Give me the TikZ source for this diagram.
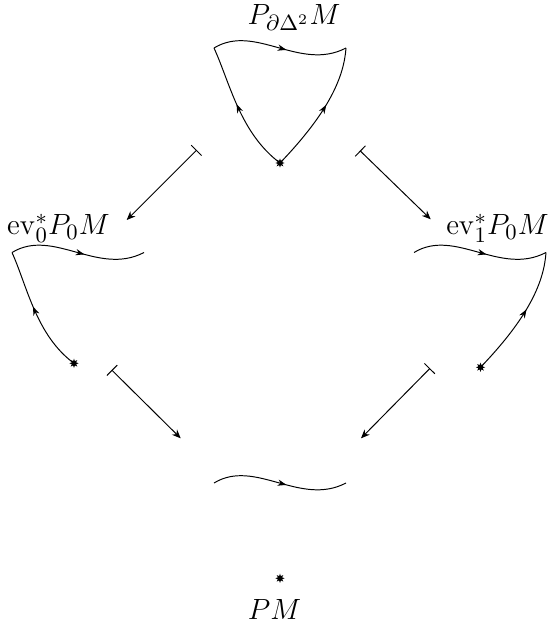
\documentclass[tikz,border=0pt]{standalone}
\usetikzlibrary{arrows.meta,decorations.markings,shapes.geometric}
\begin{document}
\begin{tikzpicture}[x=0.41pt,y=-0.41pt,
  midarrow/.style={postaction={decorate},decoration={markings,mark=at position 0.55 with {\arrow{Stealth[length=3.6pt,width=2.6pt]}}}},
  basept/.style={star,star points=8,star point ratio=2,fill=black,draw=none,inner sep=0pt,minimum size=3.8pt},
  mapsto/.style={{Bar[width=6pt]}-{Stealth[length=3.6pt,width=3pt]}},
  lbl/.style={anchor=base,inner sep=0pt,font=\fontsize{12.5pt}{15pt}\selectfont}]
\useasboundingbox (0,0) rectangle (550,633);
% top diagram
\coordinate (tA) at (214,48);
\coordinate (tB) at (346,48);
\node[basept] (tS) at (280,163) {};
\draw[midarrow] (tA) .. controls +(41,-25) and +(-46,24) .. (tB);
\draw[midarrow] (tS.center) .. controls +(-40,-30) and +(16,35) .. (tA);
\draw[midarrow] (tS.center) .. controls +(50,-52) and +(-2,28) .. (tB);
\node[lbl] (tL) at (294,25) {$P_{\partial\Delta^2}M$};
% left diagram
\coordinate (lA) at (12,252.5);
\coordinate (lB) at (144,252.5);
\node[basept] (lS) at (74,363.3) {};
\draw[midarrow] (lA) .. controls +(41,-25) and +(-46,24) .. (lB);
\draw[midarrow] (lS.center) .. controls +(-38,-28) and +(15,33) .. (lA);
\node[lbl] (lL) at (58.5,235) {$\mathrm{ev}_0^*P_0M$};
% right diagram
\coordinate (rA) at (414,252.5);
\coordinate (rB) at (546,252.5);
\node[basept] (rS) at (480.5,367.3) {};
\draw[midarrow] (rA) .. controls +(41,-25) and +(-46,24) .. (rB);
\draw[midarrow] (rS.center) .. controls +(50,-52) and +(-2,28) .. (rB);
\node[lbl] (rL) at (497.5,235) {$\mathrm{ev}_1^*P_0M$};
% bottom diagram
\coordinate (bA) at (214,483);
\coordinate (bB) at (346,483);
\draw[midarrow] (bA) .. controls +(41,-25) and +(-46,24) .. (bB);
% PM
\node[basept] (pS) at (280,578.3) {};
\node[lbl] (pL) at (274.5,619) {$PM$};
% maps
\coordinate (m1s) at (196.7,150);
\coordinate (m1e) at (126.7,220);
\coordinate (m2s) at (360,150.7);
\coordinate (m2e) at (430.7,219.3);
\coordinate (m3s) at (111.7,370);
\coordinate (m3e) at (180.7,438.3);
\coordinate (m4s) at (430,368.3);
\coordinate (m4e) at (361,438.3);
\draw[mapsto] (m1s) -- (m1e);
\draw[mapsto] (m2s) -- (m2e);
\draw[mapsto] (m3s) -- (m3e);
\draw[mapsto] (m4s) -- (m4e);
\end{tikzpicture}
\end{document}
